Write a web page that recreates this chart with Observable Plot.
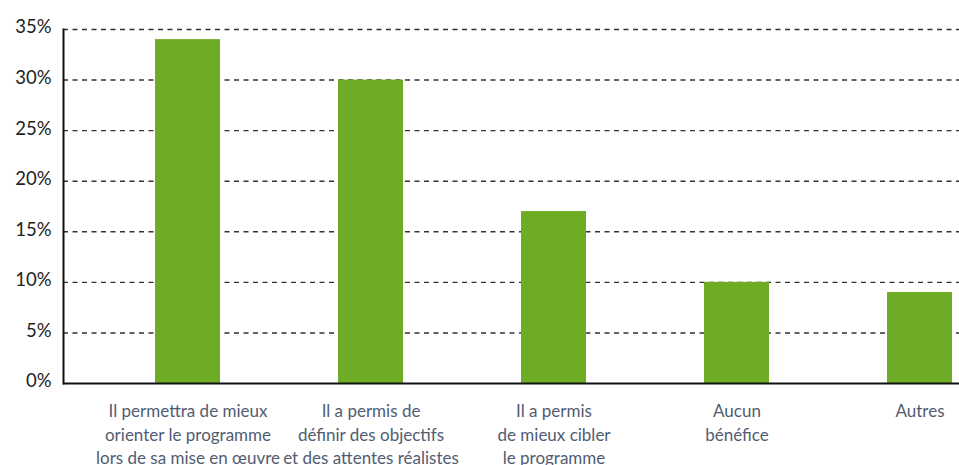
<!DOCTYPE html>
<html>
<head>
<meta charset="utf-8">
<script src="https://cdn.jsdelivr.net/npm/d3@7"></script>
<script src="https://cdn.jsdelivr.net/npm/@observablehq/plot@0.6"></script>
<style>
  html, body { margin: 0; padding: 0; background: #fff; }
  #chart { width: 959px; height: 465px; overflow: hidden; }
</style>
</head>
<body>
<div id="chart"></div>
<script>
const categories = [
  "Il permettra de mieux\norienter le programme\nlors de sa mise en œuvre",
  "Il a permis de\ndéfinir des objectifs\net des attentes réalistes",
  "Il a permis\nde mieux cibler\nle programme",
  "Aucun\nbénéfice",
  "Autres"
];
const values = [34, 30, 17, 10, 9];
const yTicks = [0, 5, 10, 15, 20, 25, 30, 35];

const data = categories.map((c, i) => ({category: c, value: values[i]}));

const chart = Plot.plot({
  width: 959,
  height: 465,
  marginLeft: 63,
  marginRight: 0,
  marginTop: 29,
  marginBottom: 82,
  style: {fontFamily: "Lato, 'Open Sans', sans-serif", background: "#fff"},
  x: {type: "band", domain: categories, paddingInner: 0.644, paddingOuter: 0.257, align: 0.93},
  y: {domain: [0, 35]},
  marks: [
    Plot.ruleY(yTicks.filter(d => d > 0), {stroke: "#333", strokeWidth: 1.4, strokeDasharray: "5,4.5"}),
    Plot.barY(data, {x: "category", y: "value", fill: "#6fac25"}),
    Plot.ruleY([0], {stroke: "#111", strokeWidth: 2}),
    Plot.frame({anchor: "left", stroke: "#111", strokeWidth: 2}),
    Plot.axisY({ticks: yTicks, tickSize: 0, tickPadding: 12, tickFormat: d => d + "%", fontSize: 18.5, fill: "#222", dy: -2, label: null}),
    Plot.axisX({tickSize: 0, tickPadding: 17, fontSize: 17, lineHeight: 1.38, fill: "#515c72", label: null})
  ]
});
document.getElementById("chart").appendChild(chart);
</script>
</body>
</html>
